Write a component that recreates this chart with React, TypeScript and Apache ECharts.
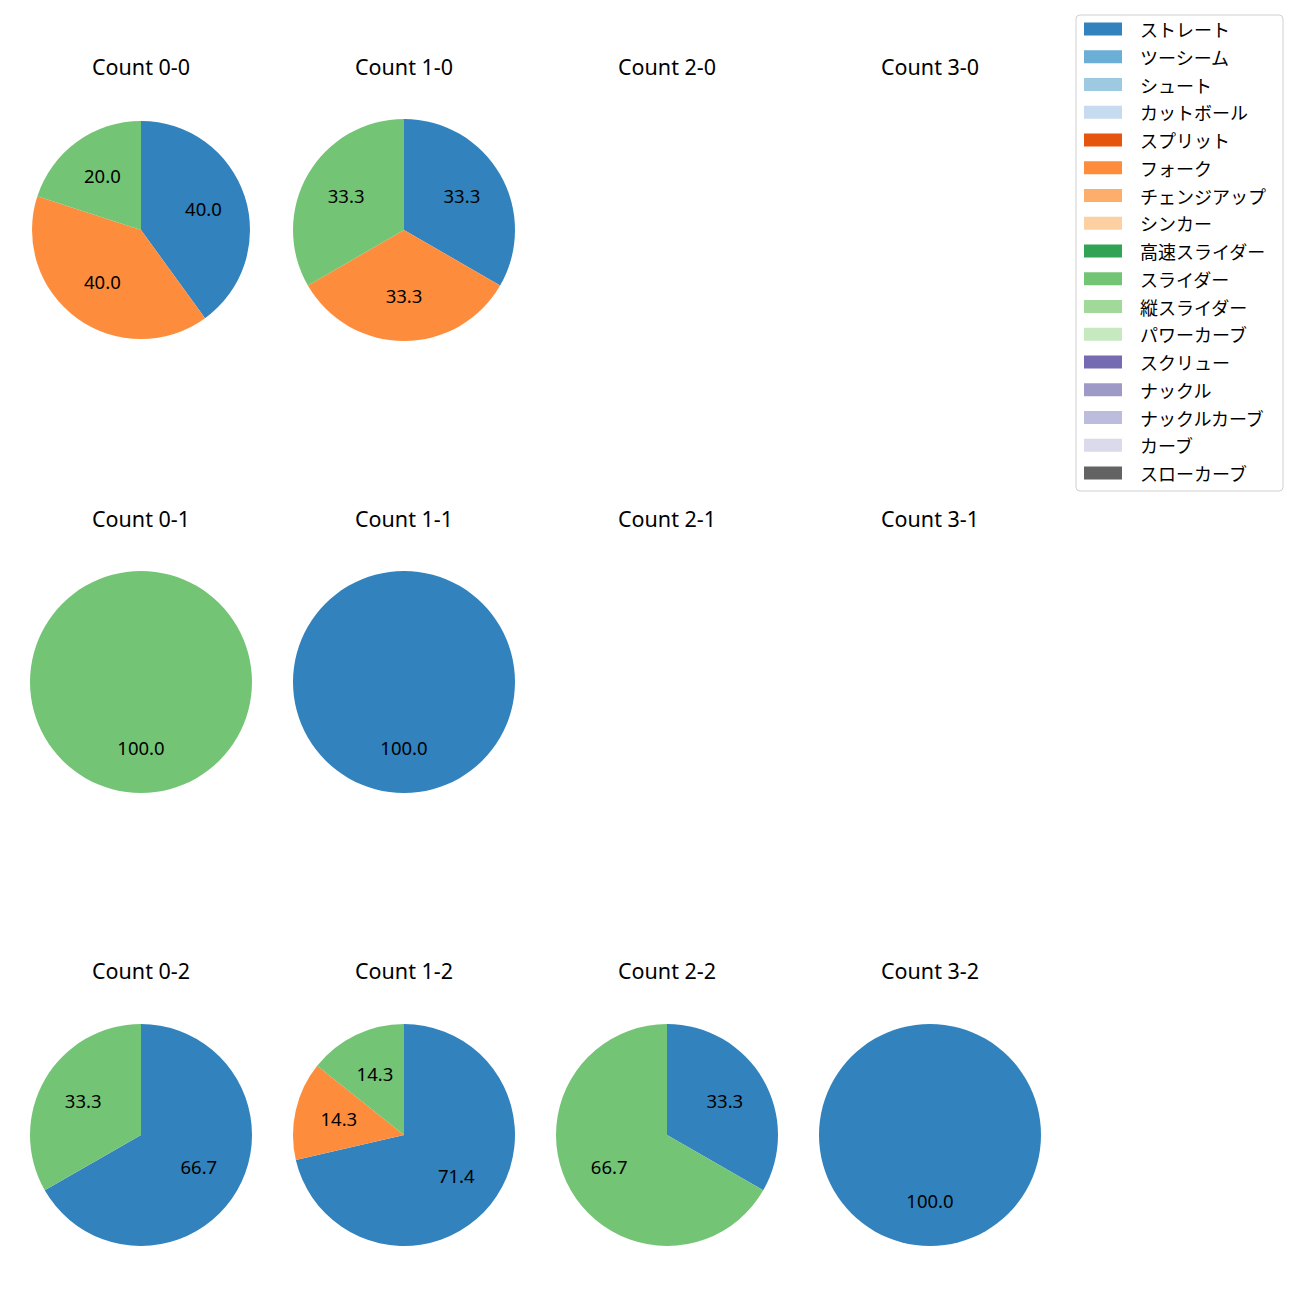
import React, { useEffect, useRef } from "react";
import * as echarts from "echarts";

const categories = [
  "ストレート", "ツーシーム", "シュート", "カットボール", "スプリット", "フォーク",
  "チェンジアップ", "シンカー", "高速スライダー", "スライダー", "縦スライダー",
  "パワーカーブ", "スクリュー", "ナックル", "ナックルカーブ", "カーブ", "スローカーブ",
];
const palette = [
  "#3182bd", "#6baed6", "#9ecae1", "#c6dbef", "#e6550d", "#fd8d3c", "#fdae6b",
  "#fdd0a2", "#31a354", "#74c476", "#a1d99b", "#c7e9c0", "#756bb1", "#9e9ac8",
  "#bcbddc", "#dadaeb", "#636363",
];

const panelTitles = [
  "Count 0-0", "Count 1-0", "Count 2-0", "Count 3-0",
  "Count 0-1", "Count 1-1", "Count 2-1", "Count 3-1",
  "Count 0-2", "Count 1-2", "Count 2-2", "Count 3-2",
];
const panelNames: string[][] = [
  ["ストレート", "フォーク", "スライダー"],
  ["ストレート", "フォーク", "スライダー"],
  [],
  [],
  ["スライダー"],
  ["ストレート"],
  [],
  [],
  ["ストレート", "スライダー"],
  ["ストレート", "フォーク", "スライダー"],
  ["ストレート", "スライダー"],
  ["ストレート"],
];
const panelValues: number[][] = [
  [40.0, 40.0, 20.0],
  [33.3, 33.3, 33.3],
  [],
  [],
  [100.0],
  [100.0],
  [],
  [],
  [66.7, 33.3],
  [71.4, 14.3, 14.3],
  [33.3, 66.7],
  [100.0],
];

const colX = [141, 404, 667, 930];
const rowY = [230, 682, 1135];
const titleY = [68, 520, 972];
const R = 111;
const FONT = "'Noto Sans', 'Noto Sans CJK JP', sans-serif";
const JFONT = "'Noto Sans CJK JP', sans-serif";

export default function App() {
  const ref = useRef<HTMLDivElement>(null);
  useEffect(() => {
    if (!ref.current) return;
    const chart = echarts.init(ref.current, undefined, { renderer: "svg" });
    const colorOf = (n: string) => palette[categories.indexOf(n)];

    const titles = panelTitles.map((t, k) => ({
      text: t,
      left: colX[k % 4],
      top: titleY[Math.floor(k / 4)] - 12,
      padding: 0,
      textAlign: "center",
      textStyle: { fontFamily: FONT, fontSize: 21.5, fontWeight: "normal", color: "#000" },
    }));

    const series: any[] = [];
    panelTitles.forEach((t, k) => {
      const names = panelNames[k];
      const values = panelValues[k];
      if (!values.length) return;
      const cx = colX[k % 4];
      const cy = rowY[Math.floor(k / 4)];
      const r = k === 0 ? 109 : R;
      series.push({
        type: "pie",
        name: t,
        center: [cx, cy],
        radius: [0, r],
        startAngle: 90,
        clockwise: true,
        silent: true,
        label: { show: false },
        labelLine: { show: false },
        data: names.map((n, i) => ({ name: n, value: values[i], itemStyle: { color: colorOf(n) } })),
      });
      series.push({
        type: "pie",
        name: t + " labels",
        center: [cx, cy - 1.5],
        radius: [0.15 * r, r],
        startAngle: 90,
        clockwise: true,
        silent: true,
        itemStyle: { color: "rgba(0,0,0,0)" },
        label: {
          show: true,
          position: "inside",
          formatter: (d: any) => d.value.toFixed(1),
          color: "#000",
          fontFamily: FONT,
          fontSize: 18.5,
        },
        labelLine: { show: false },
        data: names.map((n, i) => ({ name: n, value: values[i] })),
      });
    });

    const legendEls: any[] = [
      {
        type: "rect",
        shape: { x: 1076, y: 15, width: 207, height: 476, r: 4 },
        style: { fill: "#fff", stroke: "#d0d0d0", lineWidth: 1 },
      },
    ];
    categories.forEach((c, i) => {
      const cy = 29 + i * 27.75;
      legendEls.push({
        type: "rect",
        shape: { x: 1084, y: cy - 6.5, width: 38, height: 13 },
        style: { fill: palette[i] },
      });
      legendEls.push({
        type: "text",
        x: 1140,
        y: cy,
        style: { text: c, fill: "#000", font: `18px ${JFONT}`, verticalAlign: "middle" },
      });
    });

    chart.setOption({
      animation: false,
      backgroundColor: "#fff",
      title: titles,
      series,
      graphic: legendEls,
    });
    return () => chart.dispose();
  }, []);
  return <div ref={ref} style={{ position: "absolute", left: 0, top: 0, width: 1300, height: 1300 }} />;
}
